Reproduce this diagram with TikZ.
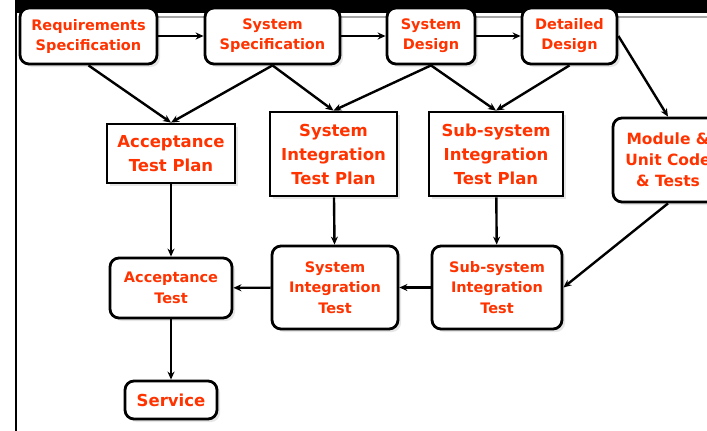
\documentclass[tikz,border=0pt]{standalone}
\usepackage{fontspec}
\setmainfont{DejaVu Sans}
\usetikzlibrary{shadows,arrows.meta}
\definecolor{vred}{RGB}{255,51,0}
\newcommand{\rowfont}{\fontsize{14.5}{20}\selectfont\bfseries}
\newcommand{\planfont}{\fontsize{16.5}{24}\selectfont\bfseries}
\newcommand{\testfont}{\fontsize{14.5}{20.5}\selectfont\bfseries}
\tikzset{
  stage/.style={draw, line width=2.8pt, rounded corners=9pt, fill=white,
    text=vred, align=center, inner sep=0pt, font=\rowfont,
    drop shadow={shadow xshift=3pt, shadow yshift=-3pt, opacity=0.2}},
  plan/.style={stage, rounded corners=0pt, font=\planfont},
  flow/.style={line width=2.4pt, -{Stealth[length=8pt,width=7pt]}}
}
\begin{document}
\begin{tikzpicture}[x=1pt,y=-1pt]
    \clip (0,0) rectangle (707,431);
    % Slide frame
    \fill (15,0) rectangle (707,12.5);
    \draw[line width=2pt] (16,12) -- (16,431);
    \draw[black!35, line width=1.2pt] (19,17) -- (707,17);
    % Top row
    \node[stage, minimum width=137, minimum height=56] (req) at (88.5,36) {Requirements\\Specification};
    \node[stage, minimum width=135, minimum height=56] (sspec) at (272.5,36) {System\\Specification};
    \node[stage, minimum width=88, minimum height=56] (sdes) at (431,36) {System\\Design};
    \node[stage, minimum width=95, minimum height=56] (ddes) at (569.5,36) {Detailed\\Design};
    % Test plans
    \node[plan, minimum width=128, minimum height=59] (atp) at (171,153.5) {Acceptance\\Test Plan};
    \node[plan, minimum width=127, minimum height=84] (sitp) at (333.5,154) {System\\Integration\\Test Plan};
    \node[plan, minimum width=134, minimum height=84] (ssitp) at (496,154) {Sub-system\\Integration\\Test Plan};
    \node[stage, font=\fontsize{15.5}{21}\selectfont\bfseries, minimum width=110, minimum height=84] (mod) at (668,160) {Module \&\\Unit Code\\\& Tests};
    % Tests
    \node[stage, font=\testfont, minimum width=122, minimum height=60] (acc) at (171,288) {Acceptance\\Test};
    \node[stage, font=\testfont, minimum width=126, minimum height=83] (sit) at (335,287.5) {System\\Integration\\Test};
    \node[stage, font=\testfont, minimum width=130, minimum height=83] (ssit) at (497,287.5) {Sub-system\\Integration\\Test};
    \node[stage, font=\planfont, minimum width=92, minimum height=38] (serv) at (171,400) {Service};
    % Arrows
    \draw[flow] (req) -- (sspec);
    \draw[flow] (sspec) -- (sdes);
    \draw[flow] (sdes) -- (ddes);
    \draw[flow] (req.south) -- (atp.north);
    \draw[flow] (sspec.south) -- (atp.north);
    \draw[flow] (sspec.south) -- (sitp.north);
    \draw[flow] (sdes.south) -- (sitp.north);
    \draw[flow] (sdes.south) -- (ssitp.north);
    \draw[flow] (ddes.south) -- (ssitp.north);
    \draw[flow] (ddes.east) -- (mod.north);
    \draw[flow] (atp) -- (acc);
    \draw[flow] (sitp) -- (sit);
    \draw[flow] (ssitp) -- (ssit);
    \draw[flow] (mod.south) -- (ssit.east);
    \draw[flow] (ssit) -- (sit);
    \draw[flow] (sit) -- (acc);
    \draw[flow] (acc) -- (serv);
\end{tikzpicture}
\end{document}
